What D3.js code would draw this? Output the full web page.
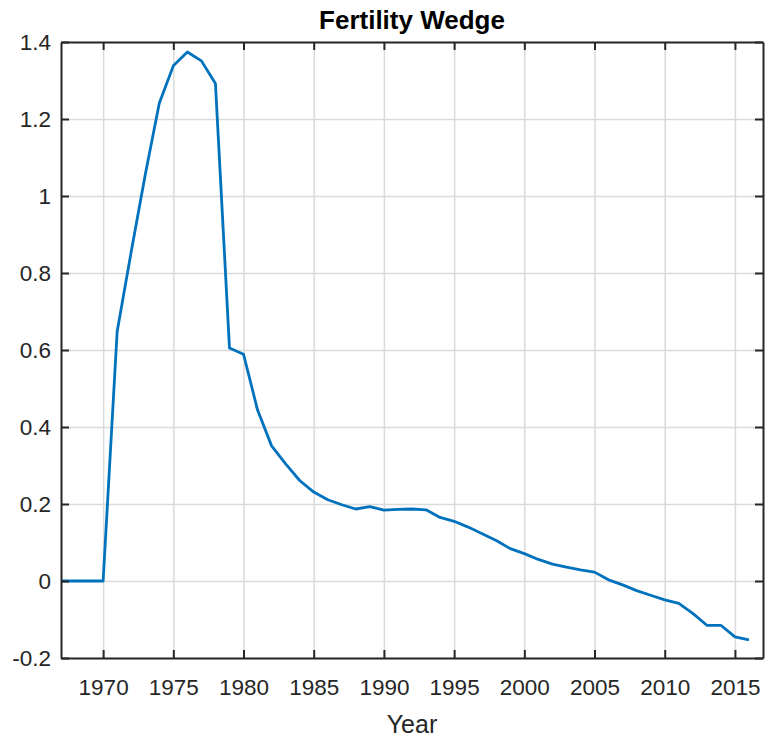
<!DOCTYPE html>
<html>
<head>
<meta charset="utf-8">
<script src="https://cdn.jsdelivr.net/npm/d3@7"></script>
<style>
  body { margin: 0; background: #fff; }
  svg { display: block; font-family: "Liberation Sans", Arial, sans-serif; }
</style>
</head>
<body>
<div class="chart"></div>
<script>
// Fertility wedge, one value per year
const YEARS = d3.range(1967, 2017)
const WEDGE = [
    0, 0, 0, 0, 0.648, 0.855, 1.055, 1.241, 1.338, 1.374,
    1.351, 1.292, 0.605, 0.589, 0.444, 0.351, 0.304, 0.261, 0.231, 0.211,
    0.198, 0.187, 0.193, 0.184, 0.186, 0.187, 0.185, 0.165, 0.155, 0.140,
    0.123, 0.105, 0.084, 0.071, 0.056, 0.044, 0.036, 0.029, 0.023, 0.003,
    -0.010, -0.025, -0.037, -0.049, -0.058, -0.084, -0.115, -0.115, -0.145, -0.153
]
const X_TICKS = [1970, 1975, 1980, 1985, 1990, 1995, 2000, 2005, 2010, 2015]
const Y_TICKS = [-0.2, 0, 0.2, 0.4, 0.6, 0.8, 1, 1.2, 1.4]

const svgWidth = 767
const svgHeight = 744
const margin = { top: 42, right: 4, bottom: 86, left: 61 }
const width = svgWidth - margin.left - margin.right
const height = svgHeight - margin.top - margin.bottom

const data = YEARS.map((y, i) => ({ year: y, value: WEDGE[i] }))

const svg = d3.select('.chart').append('svg')
    .attr('width', svgWidth)
    .attr('height', svgHeight)

const chartGroup = svg.append('g')
    .attr('transform', `translate(${margin.left}, ${margin.top})`)

const xScale = d3.scaleLinear().domain([1967, 2017]).range([0, width])
const yScale = d3.scaleLinear().domain([-0.2, 1.4]).range([height, 0])

// Grid
chartGroup.append('g')
    .attr('transform', `translate(0, ${height})`)
    .call(d3.axisBottom(xScale).tickValues(X_TICKS).tickSize(-height).tickFormat(''))
    .call(g => g.select('.domain').remove())
    .selectAll('line').attr('stroke', '#dadada').attr('stroke-width', 1.5)

chartGroup.append('g')
    .call(d3.axisLeft(yScale).tickValues(Y_TICKS).tickSize(-width).tickFormat(''))
    .call(g => g.select('.domain').remove())
    .selectAll('line').attr('stroke', '#dadada').attr('stroke-width', 1.5)

// The line
const line = d3.line()
    .x(d => xScale(d.year))
    .y(d => yScale(d.value))

chartGroup.append('path')
    .datum(data)
    .attr('fill', 'none')
    .attr('stroke', '#0072BD')
    .attr('stroke-width', 2.8)
    .attr('stroke-linejoin', 'round')
    .attr('d', line)

// Axes (box with inward ticks)
function styleAxis(g) {
    g.select('.domain').attr('stroke', '#262626').attr('stroke-width', 2)
    g.selectAll('.tick line').attr('stroke', '#262626').attr('stroke-width', 2)
    g.selectAll('text').attr('fill', '#262626').attr('font-size', '22.5px')
}

chartGroup.append('g')
    .attr('transform', `translate(0, ${height})`)
    .call(d3.axisBottom(xScale).tickValues(X_TICKS).tickSizeInner(-8).tickSizeOuter(0).tickPadding(21).tickFormat(d3.format('d')))
    .call(styleAxis)

chartGroup.append('g')
    .call(d3.axisTop(xScale).tickValues(X_TICKS).tickSizeInner(-8).tickSizeOuter(0).tickFormat(''))
    .call(styleAxis)

chartGroup.append('g')
    .call(d3.axisLeft(yScale).tickValues(Y_TICKS).tickSizeInner(-8).tickSizeOuter(0).tickPadding(10).tickFormat(d => String(+d.toFixed(1))))
    .call(styleAxis)

chartGroup.append('g')
    .attr('transform', `translate(${width}, 0)`)
    .call(d3.axisRight(yScale).tickValues(Y_TICKS).tickSizeInner(-8).tickSizeOuter(0).tickFormat(''))
    .call(styleAxis)

// Title and label
svg.append('text')
    .attr('x', margin.left + width / 2)
    .attr('y', 29)
    .attr('text-anchor', 'middle')
    .attr('font-size', '26px')
    .attr('font-weight', 'bold')
    .attr('fill', '#000')
    .text('Fertility Wedge')

svg.append('text')
    .attr('x', margin.left + width / 2)
    .attr('y', 733)
    .attr('text-anchor', 'middle')
    .attr('font-size', '25px')
    .attr('fill', '#262626')
    .text('Year')
</script>
</body>
</html>
